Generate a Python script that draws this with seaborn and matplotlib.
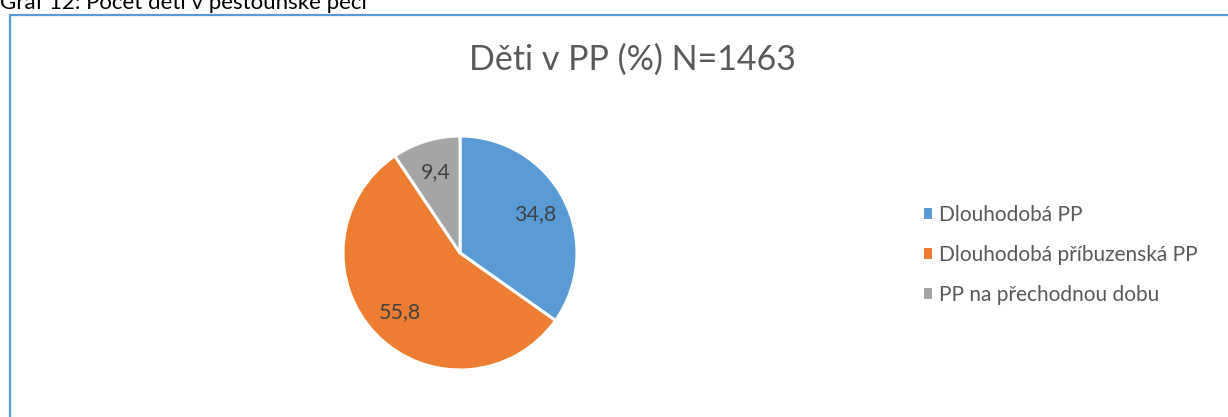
import matplotlib
matplotlib.use("Agg")
import matplotlib.pyplot as plt
import seaborn as sns
from matplotlib.patches import Patch, Rectangle

# data
categories = ["Dlouhodobá PP", "Dlouhodobá příbuzenská PP", "PP na přechodnou dobu"]
values = [34.8, 55.8, 9.4]
value_labels = ["34,8", "55,8", "9,4"]
colors = sns.color_palette(["#5B9BD5", "#ED7D31", "#A5A5A5"])

sns.set_style("white")
plt.rcParams['font.family'] = ['Lato', 'DejaVu Sans']

fig = plt.figure(figsize=(12.28, 4.17), dpi=100)
W, H = 1228, 417

# caption above the chart box (cut off at top like the reference)
fig.text(0.0, 1 - 9 / H, "Graf 12: Počet dětí v pěstounské péči", fontsize=16,
         color="#000000", va="baseline", ha="left")

# chart box border
fig.patches.append(Rectangle((10 / W, -0.1), 1.2, 1 - 15 / H + 0.1,
                             transform=fig.transFigure, fill=False,
                             edgecolor="#5B9BD5", linewidth=1.6, zorder=0))

# title
fig.text(632 / W, 1 - 60 / H, "Děti v PP (%) N=1463", fontsize=24.5,
         color="#595959", ha="center", va="center")

# pie axes: center (460, 253), radius ~117 px
r = 117
ax = fig.add_axes([(460 - r) / W, (H - 253 - r) / H, 2 * r / W, 2 * r / H])
wedges, texts = ax.pie(values, colors=colors, startangle=90, counterclock=False,
                       labels=value_labels, labeldistance=0.72,
                       wedgeprops=dict(edgecolor="white", linewidth=2.2),
                       textprops=dict(fontsize=15.5, color="#404040",
                                      ha="center", va="center"))
ax.set_xlim(-1, 1)
ax.set_ylim(-1, 1)
ax.set_aspect("equal")
ax.axis("off")

# legend
handles = [Patch(facecolor=c, edgecolor="none") for c in colors]
fig.legend(handles, categories, loc="upper left",
           bbox_to_anchor=(905 / W, 1 - 186 / H), frameon=False,
           fontsize=15, labelcolor="#595959", handlelength=0.4,
           handleheight=0.4, handletextpad=0.35, labelspacing=0.97)

fig.savefig("out.png", dpi=100)
